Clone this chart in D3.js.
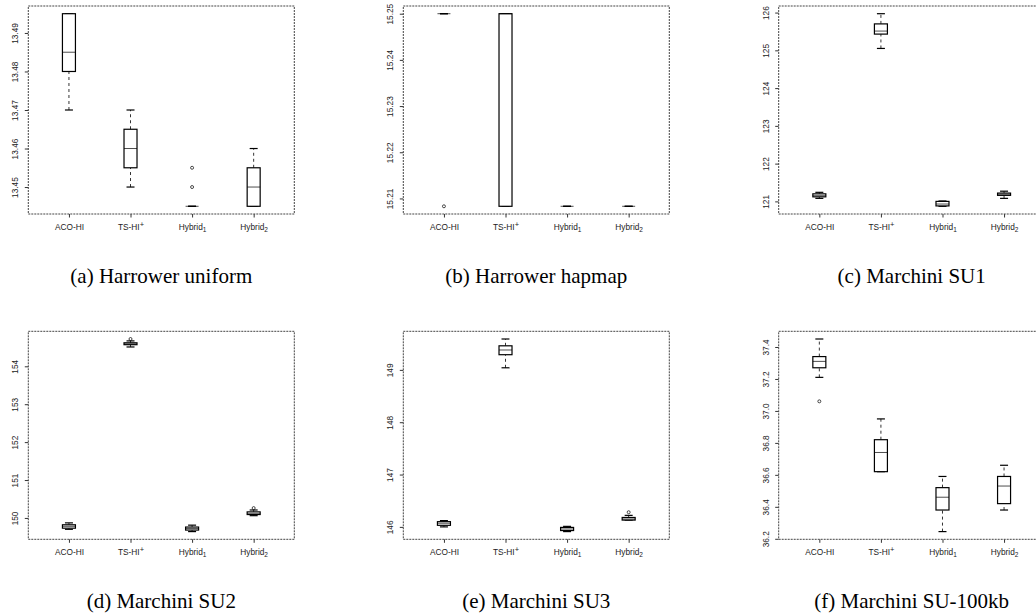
<!DOCTYPE html>
<html>
<head>
<meta charset="utf-8">
<script src="https://cdn.jsdelivr.net/npm/d3@7"></script>
<style>
  body { margin: 0; background: #fff; }
  svg { display: block; }
  .tick text { font-family: "Liberation Sans", Arial, sans-serif; font-size: 8.3px; fill: #222; }
  .caption { font-family: "Liberation Serif", "Times New Roman", serif; font-size: 21px; fill: #000; }
</style>
</head>
<body>
<svg width="1036" height="615"></svg>
<script>
// categories (label text, script mark, mark position)
var catNames = ["ACO-HI", "TS-HI", "Hybrid", "Hybrid"];
var catMarks = ["", "+", "1", "2"];
var catShift = ["", "super", "sub", "sub"];

var captions = ["(a) Harrower uniform", "(b) Harrower hapmap", "(c) Marchini SU1",
                "(d) Marchini SU2", "(e) Marchini SU3", "(f) Marchini SU-100kb"];

// box stats per category: [lower whisker, Q1, median, Q3, upper whisker]
var statsA = [[13.47, 13.48, 13.485, 13.495, 13.495],
              [13.45, 13.455, 13.46, 13.465, 13.47],
              [13.445, 13.445, 13.445, 13.445, 13.445],
              [13.445, 13.445, 13.45, 13.455, 13.46]];
var outA = [[], [], [13.45, 13.455], []];
var ticksA = [13.45, 13.46, 13.47, 13.48, 13.49];

var statsB = [[15.25, 15.25, 15.25, 15.25, 15.25],
              [15.2083, 15.2083, 15.25, 15.25, 15.25],
              [15.2083, 15.2083, 15.2083, 15.2083, 15.2083],
              [15.2083, 15.2083, 15.2083, 15.2083, 15.2083]];
var outB = [[15.2083], [], [], []];
var ticksB = [15.21, 15.22, 15.23, 15.24, 15.25];

var statsC = [[121.08, 121.12, 121.15, 121.20, 121.24],
              [125.05, 125.43, 125.51, 125.70, 125.97],
              [120.87, 120.88, 120.93, 121.00, 121.01],
              [121.08, 121.16, 121.19, 121.22, 121.27]];
var outC = [[], [], [], []];
var ticksC = [121, 122, 123, 124, 125, 126];

var statsD = [[149.70, 149.73, 149.78, 149.82, 149.87],
              [154.51, 154.57, 154.59, 154.62, 154.67],
              [149.64, 149.68, 149.72, 149.76, 149.81],
              [150.06, 150.09, 150.11, 150.16, 150.21]];
var outD = [[], [154.72], [], [150.26]];
var ticksD = [150, 151, 152, 153, 154];

var statsE = [[146.00, 146.03, 146.07, 146.10, 146.12],
              [149.04, 149.29, 149.38, 149.46, 149.59],
              [145.91, 145.93, 145.96, 145.99, 146.01],
              [146.13, 146.13, 146.15, 146.18, 146.22]];
var outE = [[], [], [], [146.28]];
var ticksE = [146, 147, 148, 149];

var statsF = [[37.21, 37.27, 37.31, 37.34, 37.45],
              [36.62, 36.62, 36.74, 36.82, 36.95],
              [36.245, 36.38, 36.46, 36.52, 36.59],
              [36.38, 36.42, 36.53, 36.59, 36.66]];
var outF = [[37.06], [], [], []];
var ticksF = [36.2, 36.4, 36.6, 36.8, 37.0, 37.2, 37.4];

var panels = [
  { stats: statsA, out: outA, ticks: ticksA, fmt: ".2f" },
  { stats: statsB, out: outB, ticks: ticksB, fmt: ".2f" },
  { stats: statsC, out: outC, ticks: ticksC, fmt: "d" },
  { stats: statsD, out: outD, ticks: ticksD, fmt: "d" },
  { stats: statsE, out: outE, ticks: ticksE, fmt: "d" },
  { stats: statsF, out: outF, ticks: ticksF, fmt: ".1f" }
];

var svg = d3.select("svg");
var colLeft = [28.3, 403.3, 778.7];
var rowTop = [6, 331.3];
var pw = 266, ph = 208;
var boxW = 13, capW = 8;

panels.forEach(function (p, i) {
  var g = svg.append("g")
    .attr("transform", "translate(" + colLeft[i % 3] + "," + rowTop[Math.floor(i / 3)] + ")");

  var all = d3.merge(p.stats).concat(d3.merge(p.out));
  var lo = d3.min(all), hi = d3.max(all), pad = (hi - lo) * 0.04;
  var y = d3.scaleLinear().domain([lo - pad, hi + pad]).range([ph, 0]);
  var x = d3.scaleLinear().domain([0.34, 4.66]).range([0, pw]);

  // y axis
  var ya = g.append("g")
    .call(d3.axisLeft(y).tickValues(p.ticks).tickSize(3.5).tickFormat(d3.format(p.fmt)));
  ya.select(".domain").remove();
  ya.selectAll("line").attr("stroke", "#333");
  ya.selectAll("text")
    .attr("transform", "rotate(-90)")
    .attr("x", 0).attr("y", -10).attr("dy", 0)
    .attr("text-anchor", "middle");

  // x axis
  var xa = g.append("g")
    .attr("transform", "translate(0," + ph + ")")
    .call(d3.axisBottom(x).tickValues([1, 2, 3, 4]).tickSize(3.5).tickFormat(""));
  xa.select(".domain").remove();
  xa.selectAll("line").attr("stroke", "#333");
  xa.selectAll(".tick text")
    .attr("y", 16).attr("dy", 0)
    .each(function (d, k) {
      var t = d3.select(this);
      t.append("tspan").text(catNames[k]);
      if (catMarks[k]) {
        t.append("tspan")
          .attr("font-size", catShift[k] === "super" ? "7.5px" : "6.5px")
          .attr("baseline-shift", catShift[k] === "super" ? "3px" : "-1.5px")
          .text(catMarks[k]);
      }
    });

  // frame
  g.append("rect")
    .attr("width", pw).attr("height", ph)
    .attr("fill", "none").attr("stroke", "#444").attr("stroke-width", 1)
    .attr("stroke-dasharray", "2,1");

  // boxes
  var b = g.selectAll(".bx").data(p.stats).enter().append("g")
    .attr("class", "bx")
    .attr("transform", function (d, k) { return "translate(" + x(k + 1) + ",0)"; });

  b.append("line")
    .attr("y1", function (d) { return y(d[0]); })
    .attr("y2", function (d) { return y(d[1]); })
    .attr("stroke", "#000").attr("stroke-width", 0.8).attr("stroke-dasharray", "3,3");
  b.append("line")
    .attr("y1", function (d) { return y(d[3]); })
    .attr("y2", function (d) { return y(d[4]); })
    .attr("stroke", "#000").attr("stroke-width", 0.8).attr("stroke-dasharray", "3,3");
  b.selectAll(".cap").data(function (d) { return [d[0], d[4]]; }).enter().append("line")
    .attr("x1", -capW / 2).attr("x2", capW / 2)
    .attr("y1", function (v) { return y(v); })
    .attr("y2", function (v) { return y(v); })
    .attr("stroke", "#000").attr("stroke-width", 1.2);
  b.append("rect")
    .attr("x", -boxW / 2).attr("width", boxW)
    .attr("y", function (d) { return y(d[3]); })
    .attr("height", function (d) { return Math.max(0, y(d[1]) - y(d[3])); })
    .attr("fill", "#fff").attr("stroke", "#000").attr("stroke-width", 1.2);
  b.append("line")
    .attr("x1", -boxW / 2).attr("x2", boxW / 2)
    .attr("y1", function (d) { return y(d[2]); })
    .attr("y2", function (d) { return y(d[2]); })
    .attr("stroke", "#000").attr("stroke-width", 0.7);

  // outliers
  p.out.forEach(function (vals, k) {
    g.selectAll(null).data(vals).enter().append("circle")
      .attr("cx", x(k + 1))
      .attr("cy", function (v) { return y(v); })
      .attr("r", 1.5)
      .attr("fill", "none").attr("stroke", "#000").attr("stroke-width", 0.7);
  });

  // caption
  g.append("text")
    .attr("class", "caption")
    .attr("x", pw / 2).attr("y", 277)
    .attr("text-anchor", "middle")
    .text(captions[i]);
});
</script>
</body>
</html>
